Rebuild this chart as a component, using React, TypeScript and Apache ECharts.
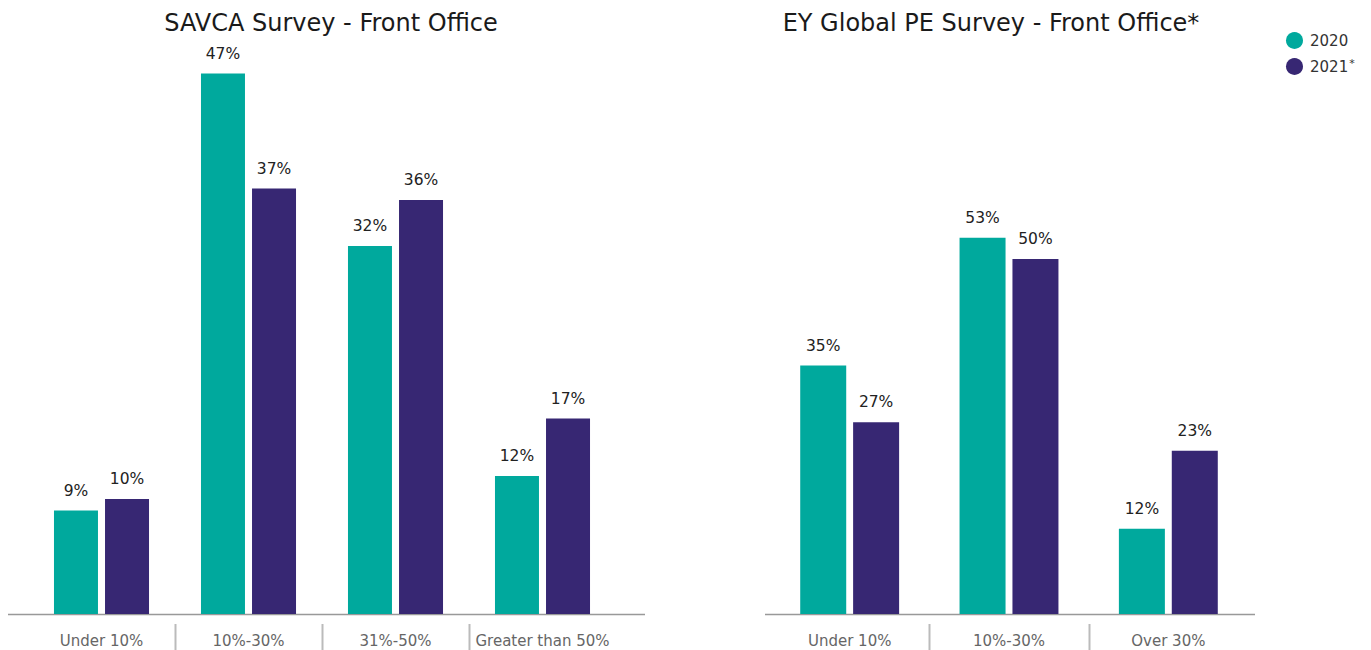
import React, { useEffect, useRef } from "react";
import * as echarts from "echarts";

const savcaCategories = ["Under 10%", "10%-30%", "31%-50%", "Greater than 50%"];
const savca2020 = [9, 47, 32, 12];
const savca2021 = [10, 37, 36, 17];

const eyCategories = ["Under 10%", "10%-30%", "Over 30%"];
const ey2020 = [35, 53, 12];
const ey2021 = [27, 50, 23];

const seriesNames = ["2020", "2021*"];
const TEAL = "#00A99D";
const PURPLE = "#372773";
const FONT = "'DejaVu Sans', sans-serif";

const G1 = { left: 28, width: 588, top: 39, height: 575 };
const G2 = { left: 770, width: 478, top: 117, height: 497 };

export default function App() {
  const ref = useRef<HTMLDivElement>(null);
  useEffect(() => {
    if (!ref.current) return;
    const chart = echarts.init(ref.current, null, { renderer: "svg" });
    const label = {
      show: true,
      position: "top",
      distance: 12,
      fontSize: 15.5,
      color: "#222",
      fontFamily: FONT,
      formatter: (p: any) => `${p.value}%`,
    };
    const sepLines: any[] = [];
    const addSeps = (g: any, n: number) => {
      const band = g.width / n;
      for (let i = 1; i < n; i++) {
        const x = Math.round(g.left + band * i) + 0.5;
        sepLines.push({
          type: "line",
          shape: { x1: x, y1: 624, x2: x, y2: 650 },
          style: { stroke: "#bbb", lineWidth: 2 },
          silent: true,
        });
      }
    };
    addSeps(G1, savcaCategories.length);
    addSeps(G2, eyCategories.length);

    const xAxisBase = {
      type: "category",
      axisLine: { show: false },
      axisTick: { show: false },
      axisLabel: { color: "#666", fontSize: 15, margin: 19, fontFamily: FONT, interval: 0 },
    };
    chart.setOption({
      animation: false,
      textStyle: { fontFamily: FONT },
      grid: [
        { ...G1, containLabel: false },
        { ...G2, containLabel: false },
      ],
      xAxis: [
        { ...xAxisBase, gridIndex: 0, data: savcaCategories },
        { ...xAxisBase, gridIndex: 1, data: eyCategories },
      ],
      yAxis: [
        { type: "value", gridIndex: 0, min: 0, max: 50, show: false, splitLine: { show: false } },
        { type: "value", gridIndex: 1, min: 0, max: 70, show: false, splitLine: { show: false } },
      ],
      legend: {
        data: seriesNames,
        orient: "vertical",
        left: 1281,
        top: 27,
        icon: "circle",
        itemWidth: 17,
        itemHeight: 17,
        itemGap: 9,
        textStyle: {
          color: "#333",
          fontSize: 15,
          fontFamily: FONT,
          padding: [0, 0, 0, 2],
          rich: { sup: { fontSize: 11, verticalAlign: "top", padding: [0, 0, 6, 1], color: "#333", fontFamily: FONT } },
        },
        formatter: (name: string) =>
          name.endsWith("*") ? `${name.slice(0, -1)}{sup|*}` : name,
        selectedMode: false,
      },
      series: [
        {
          name: seriesNames[0], type: "bar", xAxisIndex: 0, yAxisIndex: 0, data: savca2020,
          barWidth: 44, barGap: "16%", itemStyle: { color: TEAL }, label,
        },
        {
          name: seriesNames[1], type: "bar", xAxisIndex: 0, yAxisIndex: 0, data: savca2021,
          barWidth: 44, barGap: "16%", itemStyle: { color: PURPLE }, label,
        },
        {
          name: seriesNames[0], type: "bar", xAxisIndex: 1, yAxisIndex: 1, data: ey2020,
          barWidth: 46, barGap: "15%", itemStyle: { color: TEAL }, label,
        },
        {
          name: seriesNames[1], type: "bar", xAxisIndex: 1, yAxisIndex: 1, data: ey2021,
          barWidth: 46, barGap: "15%", itemStyle: { color: PURPLE }, label,
        },
      ],
      graphic: [
        {
          type: "text",
          x: 331,
          y: 23,
          style: {
            text: "SAVCA Survey - Front Office",
            fontSize: 24,
            fill: "#1a1a1a",
            fontFamily: FONT,
            align: "center",
            verticalAlign: "middle",
          },
        },
        {
          type: "text",
          x: 991,
          y: 23,
          style: {
            text: "EY Global PE Survey - Front Office*",
            fontSize: 24,
            fill: "#1a1a1a",
            fontFamily: FONT,
            align: "center",
            verticalAlign: "middle",
          },
        },
        {
          type: "line",
          shape: { x1: 8, y1: 614.5, x2: 645, y2: 614.5 },
          style: { stroke: "#999", lineWidth: 1.5 },
          silent: true,
        },
        {
          type: "line",
          shape: { x1: 765, y1: 614.5, x2: 1255, y2: 614.5 },
          style: { stroke: "#999", lineWidth: 1.5 },
          silent: true,
        },
        ...sepLines,
      ],
    } as any);
    return () => chart.dispose();
  }, []);
  return (
    <div
      ref={ref}
      style={{ position: "fixed", left: 0, top: 0, width: 1371, height: 650, background: "#fff" }}
    />
  );
}
